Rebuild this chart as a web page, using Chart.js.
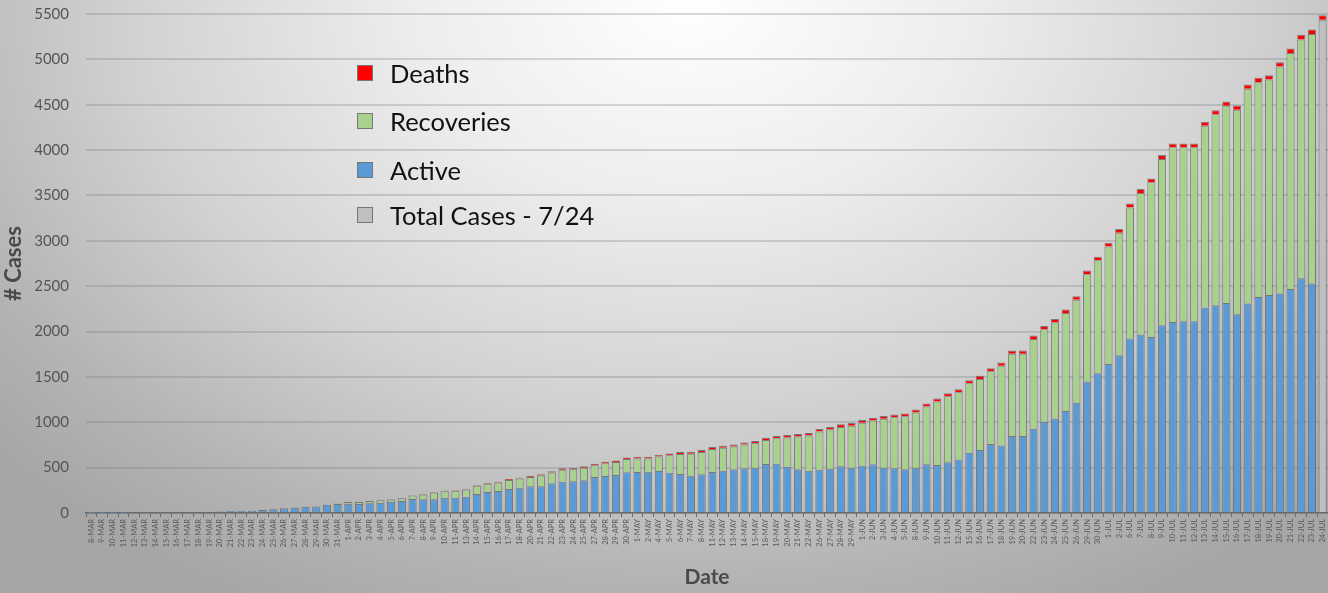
<!DOCTYPE html>
<html>
<head>
<meta charset="utf-8">
<script src="https://cdn.jsdelivr.net/npm/chart.js@4/dist/chart.umd.min.js"></script>
<style>
  html, body { margin: 0; padding: 0; }
  #wrap {
    position: relative; width: 1328px; height: 593px; overflow: hidden;
    background: radial-gradient(ellipse 70% 115% at 52% 0%, #ffffff 0%, #ededed 30%, #d2d2d2 60%, #b4b4b4 85%, #a6a6a6 100%);
  }
  canvas { position: absolute; left: 0; top: 0; }
  #legend { position: absolute; left: 357px; top: 58px; font-family: Lato, "Open Sans", sans-serif; font-size: 25.5px; color: #111; }
  .item { position: absolute; left: 0; white-space: nowrap; height: 30px; line-height: 30px; }
  .sw { position: absolute; left: 0; top: 7px; width: 16px; height: 16px; border: 1px solid #777; box-sizing: border-box; }
  .lbl { position: absolute; left: 33px; top: 0; }
</style>
</head>
<body>
<div id="wrap">
  <canvas id="c" width="1328" height="593"></canvas>
  <div id="legend"></div>
</div>
<script>
const categories = ["8-MAR","9-MAR","10-MAR","11-MAR","12-MAR","13-MAR","14-MAR","15-MAR","16-MAR","17-MAR","18-MAR","19-MAR","20-MAR","21-MAR","22-MAR","23-MAR","24-MAR","25-MAR","26-MAR","27-MAR","28-MAR","29-MAR","30-MAR","31-MAR",
"1-APR","2-APR","3-APR","4-APR","5-APR","6-APR","7-APR","8-APR","9-APR","10-APR","11-APR","13-APR","14-APR","15-APR","16-APR","17-APR","18-APR","20-APR","21-APR","22-APR","23-APR","24-APR","25-APR","27-APR","28-APR","29-APR","30-APR",
"1-MAY","2-MAY","4-MAY","5-MAY","6-MAY","7-MAY","8-MAY","11-MAY","12-MAY","13-MAY","14-MAY","15-MAY","18-MAY","19-MAY","20-MAY","21-MAY","22-MAY","26-MAY","27-MAY","28-MAY","29-MAY",
"1-JUN","2-JUN","3-JUN","4-JUN","5-JUN","8-JUN","9-JUN","10-JUN","11-JUN","12-JUN","15-JUN","16-JUN","17-JUN","18-JUN","19-JUN","20-JUN","22-JUN","23-JUN","24-JUN","25-JUN","26-JUN","29-JUN","30-JUN",
"1-JUL","2-JUL","6-JUL","7-JUL","8-JUL","9-JUL","10-JUL","11-JUL","12-JUL","13-JUL","14-JUL","15-JUL","16-JUL","17-JUL","18-JUL","19-JUL","20-JUL","21-JUL","22-JUL","23-JUL","24-JUL"];

const active = [1,1,2,2,3,3,4,4,5,
8,11,15,17,22,24,26,33,40,51,59,70,72,92,
100,
103,98,107,114,125,132,154,151,151,169,169,180,209,231,242,264,279,294,294,327,345,349,360,396,407,418,448,
451,455,462,444,429,411,426,451,466,481,492,499,539,543,510,481,466,477,488,514,499,521,
537,499,492,481,499,536,528,558,591,664,694,760,745,848,848,928,1005,1042,1123,1214,1450,1540,1642,
1740,1923,1967,1941,2070,2106,2114,2114,2265,2290,2315,2191,2309,2382,2404,2419,2470,2587,2529,
0];

const recoveries = [0,0,0,0,0,0,0,0,0,0,0,0,0,0,0,0,0,0,0,0,0,0,0,
8,
17,23,24,27,24,30,38,54,76,72,76,78,90,92,95,101,100,102,120,119,133,132,139,131,141,144,147,
150,146,160,193,222,243,246,254,252,252,262,270,265,280,323,363,388,421,431,435,463,474,
482,539,563,585,610,639,701,730,740,766,783,801,878,907,907,991,1020,1059,1081,1136,1182,1245,1295,
1349,1445,1561,1704,1831,1924,1916,1916,2002,2104,2175,2254,2367,2367,2374,2501,2601,2633,2750,
0];

const deaths = [0,0,0,0,0,0,0,0,0,0,0,0,0,0,0,0,0,0,0,0,0,0,0,0,
1,1,1,2,2,3,3,4,4,5,5,6,6,7,8,9,10,11,12,13,14,14,15,16,17,18,18,
19,19,20,20,21,21,22,22,23,23,24,24,25,25,26,26,27,27,28,28,29,29,
30,30,31,31,32,32,33,33,34,34,35,35,36,36,36,37,37,38,38,39,40,40,41,
41,42,43,43,44,44,44,44,45,46,46,47,47,48,48,49,49,50,50,
50];

const totalCases = [null,null,null,null,null,null,null,null,null,null,null,null,null,null,null,null,null,null,null,null,
null,null,null,null,null,null,null,null,null,null,null,null,null,null,null,null,null,null,null,null,
null,null,null,null,null,null,null,null,null,null,null,null,null,null,null,null,null,null,null,null,
null,null,null,null,null,null,null,null,null,null,null,null,null,null,null,null,null,null,null,null,
null,null,null,null,null,null,null,null,null,null,null,null,null,null,null,null,null,null,null,null,
null,null,null,null,null,null,null,null,null,null,null,null,null,null,null,5436];

const yTicks = [0,500,1000,1500,2000,2500,3000,3500,4000,4500,5000,5500];

const seriesNames = { deaths: "Deaths", recoveries: "Recoveries", active: "Active", total: "Total Cases - 7/24" };
const colors = { active: "#5b9bd5", recoveries: "#a9d18e", deaths: "#ff0000", total: "#bfbfbf" };

const border = "rgba(95,95,95,0.75)";
const common = { borderWidth: 1, borderColor: border, barPercentage: 0.76, categoryPercentage: 1.0, stack: "s" };

new Chart(document.getElementById("c"), {
  type: "bar",
  data: {
    labels: categories,
    datasets: [
      Object.assign({ label: seriesNames.active, data: active, backgroundColor: colors.active }, common),
      Object.assign({ label: seriesNames.total, data: totalCases, backgroundColor: colors.total }, common),
      Object.assign({ label: seriesNames.recoveries, data: recoveries, backgroundColor: colors.recoveries }, common),
      Object.assign({ label: seriesNames.deaths, data: deaths, backgroundColor: colors.deaths }, common)
    ]
  },
  options: {
    responsive: false,
    animation: false,
    layout: { padding: { top: 14, right: 0, left: 0, bottom: 0 } },
    plugins: { legend: { display: false }, tooltip: { enabled: false } },
    scales: {
      x: {
        stacked: true,
        offset: true,
        grid: { display: true, drawOnChartArea: false, drawTicks: true, tickLength: 4, offset: true, color: "#6a6a6a" },
        border: { display: true, color: "#6a6a6a", width: 1.5 },
        ticks: { autoSkip: false, maxRotation: 90, minRotation: 90, padding: 2, color: "#595959", font: { family: "Lato", size: 7.5 } },
        title: { display: true, text: "Date", color: "#4a4a4a", font: { family: "Lato", size: 21, weight: "bold" }, padding: { top: 0, bottom: 3 } },
        afterFit: (s) => { s.height = 80; s.paddingRight = 0; s.paddingLeft = 0; s.paddingTop = 0; s.paddingBottom = 0; }
      },
      y: {
        stacked: true,
        min: 0, max: 5500,
        afterBuildTicks: (s) => { s.ticks = yTicks.map(v => ({ value: v })); },
        grid: { color: "rgba(120,120,120,0.28)", lineWidth: 2, drawTicks: false },
        border: { display: false },
        ticks: { padding: 17, color: "#555555", font: { family: "Lato", size: 15 }, callback: (v) => String(v) },
        title: { display: true, text: "# Cases", color: "#4a4a4a", font: { family: "Lato", size: 22, weight: "bold" }, padding: { top: 1, bottom: 0 } },
        afterFit: (s) => { s.width = 86; s.paddingTop = 0; s.paddingBottom = 0; }
      }
    }
  }
});

// HTML legend (order as in reference)
const legendItems = [
  { name: seriesNames.deaths, color: colors.deaths, top: 0 },
  { name: seriesNames.recoveries, color: colors.recoveries, top: 48 },
  { name: seriesNames.active, color: colors.active, top: 97 },
  { name: seriesNames.total, color: colors.total, top: 142 }
];
const lg = document.getElementById("legend");
legendItems.forEach(it => {
  const d = document.createElement("div");
  d.className = "item";
  d.style.top = it.top + "px";
  d.innerHTML = '<span class="sw" style="background:' + it.color + '"></span><span class="lbl"></span>';
  d.querySelector(".lbl").textContent = it.name;
  lg.appendChild(d);
});
</script>
</body>
</html>
